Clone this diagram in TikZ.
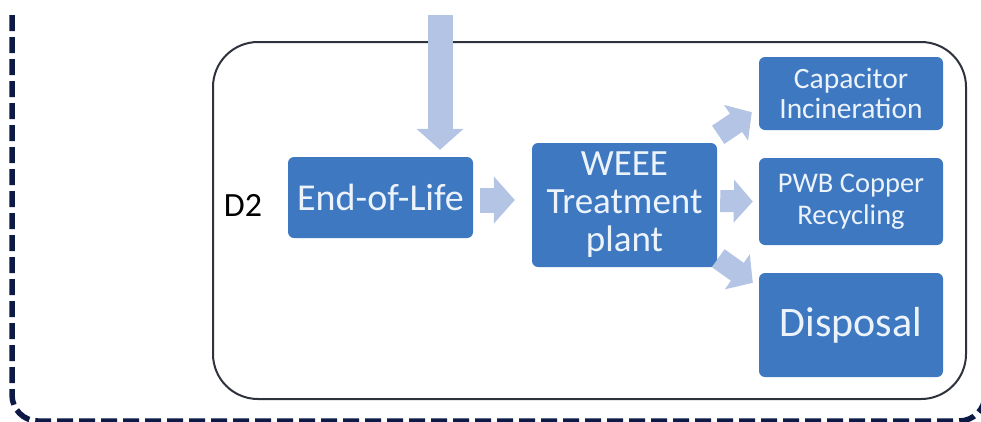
\documentclass[tikz,border=0pt]{standalone}
\usepackage{fontspec}
\setmainfont{Carlito}
\usetikzlibrary{arrows.meta}

\definecolor{boxblue}{RGB}{62,120,193}
\definecolor{arrowblue}{RGB}{180,196,228}
\definecolor{boxtext}{RGB}{236,243,251}
\definecolor{framenavy}{RGB}{13,26,70}
\definecolor{outline}{RGB}{46,50,60}

\begin{document}
\begin{tikzpicture}[x=1pt, y=-1pt,
  stagebox/.style={fill=boxblue, rounded corners=6pt, text=boxtext, align=center, inner sep=0pt},
  blockarrow/.style={draw=arrowblue, line width=25pt, -{Triangle[length=21pt,width=46pt]}},
  smallarrow/.style={draw=arrowblue, line width=22pt, -{Triangle[length=19pt,width=42pt]}}]
\begin{scope}

\useasboundingbox (0,0) rectangle (981,421);
\clip (0,0) rectangle (981,421);

\draw[framenavy, line width=5.5pt, dash pattern=on 16pt off 6pt, rounded corners=26pt]
  (12,15) -- (12,421) -- (985,421) -- (985,-10);

\draw[outline, line width=2pt, rounded corners=45pt] (213,42) rectangle (966,399);

\node[font=\fontsize{34}{36}\selectfont] (d2) at (243,205) {D2};

\node[stagebox, minimum width=185pt, minimum height=81pt, font=\fontsize{38}{40}\selectfont] (eol) at (380.5,197.5) {End-of-Life};
\node[stagebox, minimum width=185pt, minimum height=124pt, font=\fontsize{37}{38}\selectfont] (weee) at (624.5,205) {WEEE\\Treatment\\plant};
\node[stagebox, minimum width=184pt, minimum height=73pt, font=\fontsize{29.5}{30}\selectfont] (cap) at (851,93.5) {Capacitor\\Incineration};
\node[stagebox, minimum width=184pt, minimum height=87pt, font=\fontsize{28.5}{32}\selectfont] (pwb) at (851,201.5) {PWB Copper\\Recycling};
\node[stagebox, minimum width=184pt, minimum height=104pt, font=\fontsize{42}{44}\selectfont] (disp) at (851,325) {Disposal};

\coordinate (feed) at (440,15);
\draw[blockarrow] (feed) -- ([xshift=59.5pt,yshift=7pt]eol.north);
\draw[blockarrow] ([xshift=7pt,yshift=-2.5pt]eol.east) -- ([xshift=-17pt,yshift=5pt]weee.west);

\draw[smallarrow] ([xshift=1pt,yshift=8pt]weee.north east) -- ([xshift=-7pt,yshift=18pt]cap.south west);
\draw[smallarrow] ([xshift=3pt,yshift=4pt]weee.east) -- ([xshift=-6pt]pwb.west);
\draw[smallarrow] ([xshift=1pt,yshift=9pt]weee.south east) -- ([xshift=-6pt,yshift=-10pt]disp.north west);

\end{scope}
\end{tikzpicture}
\end{document}
